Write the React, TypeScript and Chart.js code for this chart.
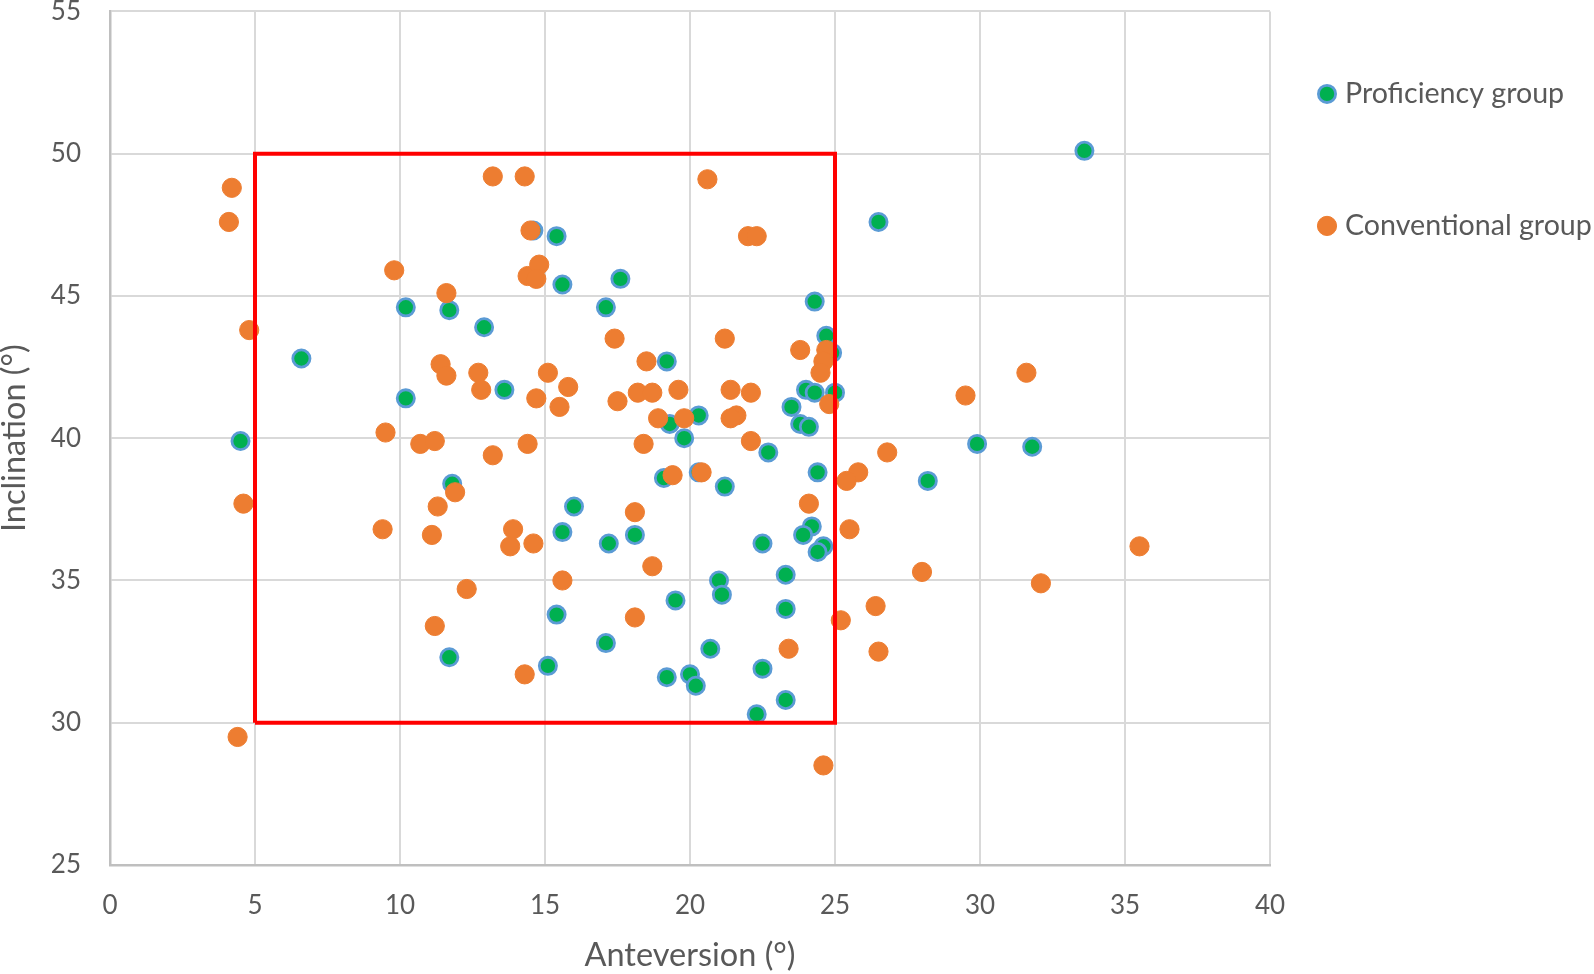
import React, { useEffect, useRef } from "react";
import { Chart, registerables } from "chart.js";

Chart.register(...registerables);

// Proficiency group (anteversion °, inclination °)
const proficiencyAnteversion = [
  33.6, 26.5, 14.6, 15.4, 17.6, 15.6, 10.2, 11.7, 17.1, 24.3,
  12.9, 24.7, 6.6, 19.2, 24.9, 10.2, 13.6, 24.0, 24.3, 25.0,
  23.5, 23.8, 24.1, 19.3, 19.8, 20.3, 4.5, 22.7, 11.8, 19.1,
  20.3, 21.2, 24.4, 28.2, 29.9, 31.8, 16.0, 15.6, 18.1, 17.2,
  22.5, 24.2, 23.9, 24.6, 24.4, 21.0, 21.1, 23.3, 19.5, 23.3,
  15.4, 17.1, 20.7, 11.7, 15.1, 22.5, 19.2, 20.0, 20.2, 23.3,
  22.3,
];
const proficiencyInclination = [
  50.1, 47.6, 47.3, 47.1, 45.6, 45.4, 44.6, 44.5, 44.6, 44.8,
  43.9, 43.6, 42.8, 42.7, 43.0, 41.4, 41.7, 41.7, 41.6, 41.6,
  41.1, 40.5, 40.4, 40.5, 40.0, 40.8, 39.9, 39.5, 38.4, 38.6,
  38.8, 38.3, 38.8, 38.5, 39.8, 39.7, 37.6, 36.7, 36.6, 36.3,
  36.3, 36.9, 36.6, 36.2, 36.0, 35.0, 34.5, 35.2, 34.3, 34.0,
  33.8, 32.8, 32.6, 32.3, 32.0, 31.9, 31.6, 31.7, 31.3, 30.8,
  30.3,
];

// Conventional group (anteversion °, inclination °)
const conventionalAnteversion = [
  4.2, 4.1, 13.2, 14.3, 20.6, 22.0, 22.3, 14.5, 9.8, 11.6,
  14.4, 14.8, 14.7, 4.8, 11.4, 11.6, 12.7, 12.8, 15.1, 15.8,
  14.7, 15.5, 17.4, 17.5, 9.5, 10.7, 11.2, 13.2, 14.4, 4.6,
  11.9, 11.3, 9.4, 11.1, 13.9, 13.8, 14.6, 15.6, 12.3, 11.2,
  14.3, 4.4, 18.5, 18.2, 18.7, 19.6, 18.9, 19.8, 18.4, 19.4,
  20.4, 21.2, 21.4, 22.1, 21.6, 21.4, 22.1, 23.8, 24.7, 24.6,
  24.5, 24.8, 26.8, 25.8, 25.4, 24.1, 25.5, 18.1, 18.7, 18.1,
  25.2, 26.4, 26.5, 23.4, 24.6, 29.5, 31.6, 35.5, 32.1, 28.0,
];
const conventionalInclination = [
  48.8, 47.6, 49.2, 49.2, 49.1, 47.1, 47.1, 47.3, 45.9, 45.1,
  45.7, 46.1, 45.6, 43.8, 42.6, 42.2, 42.3, 41.7, 42.3, 41.8,
  41.4, 41.1, 43.5, 41.3, 40.2, 39.8, 39.9, 39.4, 39.8, 37.7,
  38.1, 37.6, 36.8, 36.6, 36.8, 36.2, 36.3, 35.0, 34.7, 33.4,
  31.7, 29.5, 42.7, 41.6, 41.6, 41.7, 40.7, 40.7, 39.8, 38.7,
  38.8, 43.5, 41.7, 41.6, 40.8, 40.7, 39.9, 43.1, 43.1, 42.7,
  42.3, 41.2, 39.5, 38.8, 38.5, 37.7, 36.8, 37.4, 35.5, 33.7,
  33.6, 34.1, 32.5, 32.6, 28.5, 41.5, 42.3, 36.2, 34.9, 35.3,
];

// Target zone (red rectangle): anteversion 5–25°, inclination 30–50°
const zoneAnteversion = [5, 5, 25, 25, 5];
const zoneInclination = [30, 50, 50, 30, 30];

const seriesNames = ["Proficiency group", "Conventional group"];
const xAxisTitle = "Anteversion (°)";
const yAxisTitle = "Inclination (°)";
const xRange = [0, 40];
const yRange = [25, 55];
const tickStep = 5;

const zip = (xs: number[], ys: number[]) => xs.map((x, i) => ({ x, y: ys[i] }));

const FONT = "Lato, 'Open Sans', sans-serif";
const TEXT = "#595959";

const legendPlugin = {
  id: "sideLegend",
  afterDraw(chart: any) {
    const { ctx, chartArea } = chart;
    const items = [
      { label: seriesNames[0], fill: "#00B050", stroke: "#5B9BD5", r: 8.6, bw: 2.8, dy: 82.5 },
      { label: seriesNames[1], fill: "#ED7D31", stroke: "#ED7D31", r: 9.6, bw: 1, dy: 214.5 },
    ];
    ctx.save();
    items.forEach((it) => {
      const cx = chartArea.right + 57;
      const cy = chartArea.top + it.dy;
      ctx.beginPath();
      ctx.arc(cx, cy, it.r, 0, Math.PI * 2);
      ctx.fillStyle = it.fill;
      ctx.fill();
      ctx.lineWidth = it.bw;
      ctx.strokeStyle = it.stroke;
      ctx.stroke();
      ctx.font = `28.6px ${FONT}`;
      ctx.fillStyle = TEXT;
      ctx.textAlign = "left";
      ctx.textBaseline = "middle";
      ctx.fillText(it.label, cx + 18, cy);
    });
    ctx.restore();
  },
};

export default function App() {
  const ref = useRef<HTMLCanvasElement | null>(null);

  useEffect(() => {
    if (!ref.current) return;
    const chart = new Chart(ref.current, {
      type: "scatter",
      data: {
        datasets: [
          {
            label: seriesNames[0],
            data: zip(proficiencyAnteversion, proficiencyInclination),
            backgroundColor: "#00B050",
            borderColor: "#5B9BD5",
            borderWidth: 2.8,
            pointRadius: 8.6,
            order: 2,
          },
          {
            label: seriesNames[1],
            data: zip(conventionalAnteversion, conventionalInclination),
            backgroundColor: "#ED7D31",
            borderColor: "#ED7D31",
            borderWidth: 1,
            pointRadius: 9.6,
            order: 1,
          },
          {
            label: "Target zone",
            data: zip(zoneAnteversion, zoneInclination),
            showLine: true,
            borderColor: "#FF0000",
            borderWidth: 4,
            pointRadius: 0,
            fill: false,
            tension: 0,
            order: 0,
          } as any,
        ],
      },
      options: {
        animation: false,
        responsive: false,
        devicePixelRatio: 1,
        layout: { padding: { left: 0, top: 9, right: 324, bottom: 0 } },
        plugins: {
          legend: { display: false },
          tooltip: { enabled: false },
        },
        scales: {
          x: {
            type: "linear",
            min: xRange[0],
            max: xRange[1],
            afterFit: (s: any) => {
              s.height = 109;
              s.paddingLeft = 0;
              s.paddingRight = 0;
            },
            ticks: {
              stepSize: tickStep,
              padding: 25,
              color: TEXT,
              font: { family: FONT, size: 26 },
            },
            grid: { color: "#d9d9d9", lineWidth: 2, drawTicks: false },
            border: { color: "#bfbfbf", width: 2.5 },
            title: {
              display: true,
              text: xAxisTitle,
              color: TEXT,
              font: { family: FONT, size: 32.5, lineHeight: 1 },
              padding: { top: 0, bottom: 2 },
            },
          },
          y: {
            type: "linear",
            min: yRange[0],
            max: yRange[1],
            afterFit: (s: any) => {
              s.width = 110;
              s.paddingTop = 0;
              s.paddingBottom = 0;
            },
            ticks: {
              stepSize: tickStep,
              padding: 29,
              color: TEXT,
              font: { family: FONT, size: 26 },
            },
            grid: { color: "#d9d9d9", lineWidth: 2, drawTicks: false },
            border: { color: "#bfbfbf", width: 2.5 },
            title: {
              display: true,
              text: yAxisTitle,
              color: TEXT,
              font: { family: FONT, size: 32.5, lineHeight: 0.9 },
              padding: { top: 0, bottom: 0 },
            },
          },
        },
      },
      plugins: [legendPlugin],
    });
    return () => chart.destroy();
  }, []);

  return (
    <div style={{ position: "fixed", left: 0, top: 0, width: 1594, height: 974, background: "#fff" }}>
      <canvas ref={ref} width={1594} height={974} style={{ display: "block" }} />
    </div>
  );
}
